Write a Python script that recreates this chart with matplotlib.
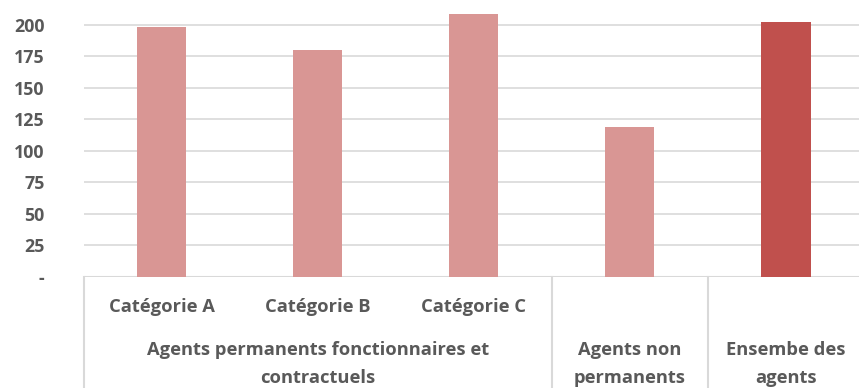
import matplotlib.pyplot as plt
from matplotlib.lines import Line2D

# ── Data ──────────────────────────────────────────────────────────────────────
categories = ["Catégorie A", "Catégorie B", "Catégorie C", "", ""]
groups = ["Agents permanents fonctionnaires et\ncontractuels",
          "Agents non\npermanents",
          "Ensembe des\nagents"]
group_spans = [(0, 3), (3, 4), (4, 5)]
values = [198, 180, 209, 119, 202]
bar_colors = ["#D99694", "#D99694", "#D99694", "#D99694", "#C0504D"]
y_ticks = [0, 25, 50, 75, 100, 125, 150, 175, 200]
y_ticklabels = ["-", "25", "50", "75", "100", "125", "150", "175", "200"]

TXT = "#595959"
GRID = "#D9D9D9"
FS = 13.2
plt.rcParams['font.family'] = ['Open Sans', 'DejaVu Sans']

W, H = 859, 388
fig = plt.figure(figsize=(W / 100, H / 100), dpi=100)
left, right, bottom = 83.5, 864, 277
ax = fig.add_axes([left / W, 1 - bottom / H, (right - left) / W, bottom / H])

x = list(range(len(values)))
ax.bar(x, values, width=0.315, color=bar_colors, zorder=3)
ax.set_xlim(-0.5, len(values) - 0.5)
ax.set_ylim(0, 219.8)

for t in y_ticks[1:]:
    ax.axhline(t, color=GRID, linewidth=1.2, zorder=1)
ax.axhline(0, color=GRID, linewidth=1.5, zorder=2)

for s in ax.spines.values():
    s.set_visible(False)
ax.set_xticks([])
ax.set_yticks(y_ticks)
ax.set_yticklabels(y_ticklabels, fontsize=12.8, fontweight='bold', color=TXT)
ax.tick_params(axis='y', length=0, pad=28)

# multi-level category axis
tr = ax.get_xaxis_transform()
ybot = -111 / 277
for xs in [-0.5, 2.5, 3.5]:
    ax.add_line(Line2D([xs, xs], [0, ybot], transform=tr, color=GRID,
                       linewidth=1.5, clip_on=False))

for i, c in enumerate(categories):
    if c:
        ax.text(i, -30 / 277, c, transform=tr, ha='center', va='center',
                fontsize=FS, fontweight='bold', color=TXT)

for g, (a, b) in zip(groups, group_spans):
    for k, line in enumerate(g.split("\n")):
        ax.text((a + b - 1) / 2, -(73 + 28 * k) / 277, line, transform=tr,
                ha='center', va='center', fontsize=FS, fontweight='bold',
                color=TXT)

fig.savefig("out.png", dpi=100)
